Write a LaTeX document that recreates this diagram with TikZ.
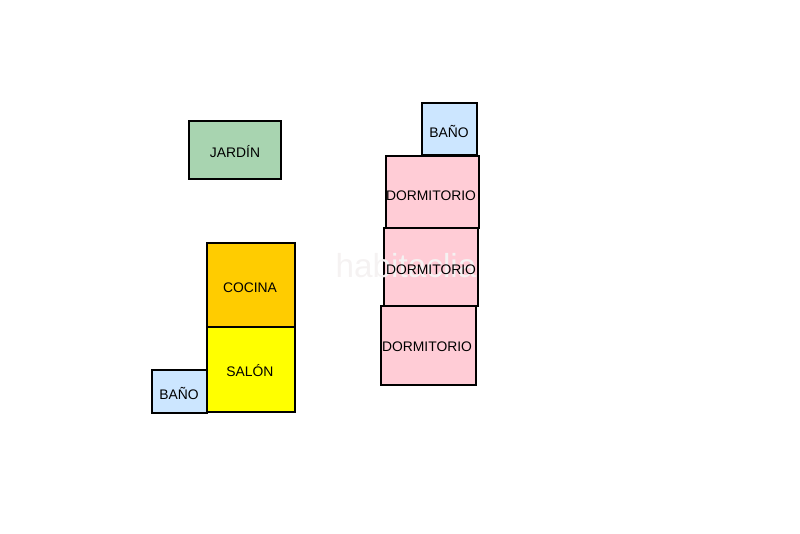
\documentclass[tikz,border=0pt]{standalone}
\usepackage{fontspec}
\setmainfont{Liberation Sans}
\definecolor{jardincol}{RGB}{168,212,176}
\definecolor{cocinacol}{RGB}{255,204,0}
\definecolor{saloncol}{RGB}{255,255,0}
\definecolor{banocol}{RGB}{204,230,255}
\definecolor{dormcol}{RGB}{255,204,214}
\definecolor{markcol}{RGB}{245,242,242}
\tikzset{
	room/.style={draw=black,line width=1.8pt,line join=miter},
	roomlabel/.style={inner sep=0pt,font=\fontsize{10.4}{12}\selectfont,text=black},
}
\begin{document}
\begin{tikzpicture}[x=0.75pt,y=-0.75pt]
	\useasboundingbox (0,0) rectangle (800,533);
	\draw[room,fill=jardincol] (189,121) rectangle (281,179);
	\draw[room,fill=cocinacol] (207,243) rectangle (295,327);
	\draw[room,fill=saloncol] (207,327) rectangle (295,412);
	\draw[room,fill=banocol] (152,370) rectangle (207,413);
	\draw[room,fill=banocol] (422,103) rectangle (477,155);
	\draw[room,fill=dormcol] (386,156) rectangle (479,228);
	\draw[room,fill=dormcol] (384,228) rectangle (478,306);
	\draw[room,fill=dormcol] (381,306) rectangle (476,385);
	\node[inner sep=0pt,font=\fontsize{25}{25}\selectfont,text=markcol] (mark) at (406,266) {habitaclia};
	\node[roomlabel] (jardin) at (235,152) {JARDÍN};
	\node[roomlabel] (cocina) at (250,288) {COCINA};
	\node[roomlabel] (salon) at (250,371) {SALÓN};
	\node[roomlabel] (bano1) at (179,393) {BAÑO};
	\node[roomlabel] (bano2) at (449,131) {BAÑO};
	\node[roomlabel] (dorm1) at (431,196) {DORMITORIO};
	\node[roomlabel] (dorm2) at (431,270) {DORMITORIO};
	\node[roomlabel] (dorm3) at (427,347) {DORMITORIO};
\end{tikzpicture}
\end{document}
